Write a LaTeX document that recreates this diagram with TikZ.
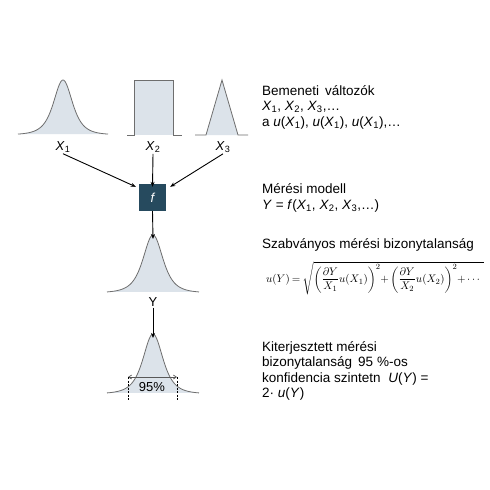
\documentclass[tikz,border=0pt]{standalone}
\usepackage{fontspec}
\setmainfont{Liberation Sans}
\usepackage{amsmath}
\usetikzlibrary{arrows.meta}
\definecolor{distfill}{RGB}{220,227,234}
\definecolor{diststroke}{RGB}{110,110,110}
\definecolor{boxcol}{RGB}{38,74,94}
\tikzset{
  curve/.style={draw=diststroke, line width=0.8pt},
  area/.style={fill=distfill},
  arr/.style={-{Stealth[length=5pt,width=4pt]}, line width=0.9pt, black},
  txt/.style={anchor=west, align=left, inner sep=0pt, font=\fontsize{13.5}{15.5}\selectfont},
  lab/.style={inner sep=1pt, font=\fontsize{13}{15}\selectfont},
  fbox/.style={fill=boxcol, minimum width=27pt, minimum height=27pt, inner sep=0pt, text=white, font=\fontsize{13}{15}\selectfont\itshape}
}
\begin{document}
\begin{tikzpicture}[x=1pt,y=-1pt]
\useasboundingbox (0,0) rectangle (490,490);
\fill[white] (0,0) rectangle (490,490);
% X1 curve
\fill[area] plot[domain=-45:45, samples=121] ({63+\x},{135-55/(1+\x*\x/300)^2}) -- cycle;
\draw[curve] plot[domain=-45:45, samples=121] ({63+\x},{135-55/(1+\x*\x/300)^2});
% X2 rectangle
\fill[area] (134,135) rectangle (173,80);
\draw[curve] (127,135) -- (134,135) -- (134,80) -- (173,80) -- (173,135) -- (182,135);
% X3 triangle
\fill[area] (206,135) -- (222,80) -- (238,135) -- cycle;
\draw[curve] (195,135) -- (206,135) -- (222,80) -- (238,135) -- (248,135);
% labels
\node[lab] (x1) at (63,147) {\textit{X}\textsubscript{1}};
\node[lab] (x2) at (153,147) {\textit{X}\textsubscript{2}};
\node[lab] (x3) at (223,147) {\textit{X}\textsubscript{3}};
% f box
\node[fbox] (f) at (152.5,197.5) {f};
\draw[arr] (x1.south) -- ([shift={(-3,3)}]f.north west);
\draw[arr] (x2.south) -- ([yshift=-3pt]f.north);
\draw[arr] (x3.south) -- ([shift={(4,3)}]f.north east);
% Y curve
\coordinate (ypeak) at (153,235);
\fill[area] plot[domain=-46:46, samples=121] ({153+\x},{293-58/(1+\x*\x/330)^2}) -- cycle;
\draw[curve] plot[domain=-46:46, samples=121] ({153+\x},{293-58/(1+\x*\x/330)^2});
\draw[arr] (f.south) -- ([yshift=-4pt]ypeak);
\node[lab] (ylab) at (153,302) {Y};
% bottom curve
\coordinate (bpeak) at (153,334);
\fill[area] plot[domain=-46:46, samples=121] ({153+\x},{394-60/(1+\x*\x/330)^2}) -- cycle;
\draw[curve] plot[domain=-46:46, samples=121] ({153+\x},{394-60/(1+\x*\x/330)^2});
\draw[arr] (ylab.south) -- ([yshift=-4pt]bpeak);
\coordinate (cl) at (128,377);
\coordinate (cr) at (177,377);
\draw[diststroke!80!black, line width=0.7pt, {Straight Barb[length=3pt,width=4pt]}-{Straight Barb[length=3pt,width=4pt]}] (cl) -- (cr);
\draw[black, dashed, dash pattern=on 2pt off 1.5pt, line width=0.5pt] (cl) -- ++(0,23);
\draw[black, dashed, dash pattern=on 2pt off 1.5pt, line width=0.5pt] (cr) -- ++(0,23);
\node[lab] (pct) at (152,387) {95\%};
% texts
\node[txt] (t1) at (262,107) {Bemeneti \,változók\\
\textit{X}\textsubscript{1}, \textit{X}\textsubscript{2}, \textit{X}\textsubscript{3},…\\
a \textit{u}(\textit{X}\textsubscript{1}), \textit{u}(\textit{X}\textsubscript{1}), \textit{u}(\textit{X}\textsubscript{1}),…};
\node[txt] (t2) at (262,198) {Mérési modell\\
\textit{Y} = \textit{f}(\textit{X}\textsubscript{1}, \textit{X}\textsubscript{2}, \textit{X}\textsubscript{3},…)};
\node[txt] (t3) at (262,245) {Szabványos mérési bizonytalanság};
\node[anchor=west, inner sep=0pt, font=\fontsize{11}{13}\selectfont] (eq) at (266,278)
 {\medmuskip=2.5mu\thickmuskip=3.5mu$u(Y)=\sqrt{\left(\dfrac{\partial Y}{X_1}u(X_1)\right)^{2}\!+\left(\dfrac{\partial Y}{X_2}u(X_2)\right)^{2}\!+\cdots\;\;}$};
\node[txt] (t4) at (262,371) {Kiterjesztett mérési\\
bizonytalanság \,95 \%-os\\
konfidencia szintetn \ \textit{U}(\textit{Y}) =\\
2· \textit{u}(\textit{Y})};
\end{tikzpicture}
\end{document}
